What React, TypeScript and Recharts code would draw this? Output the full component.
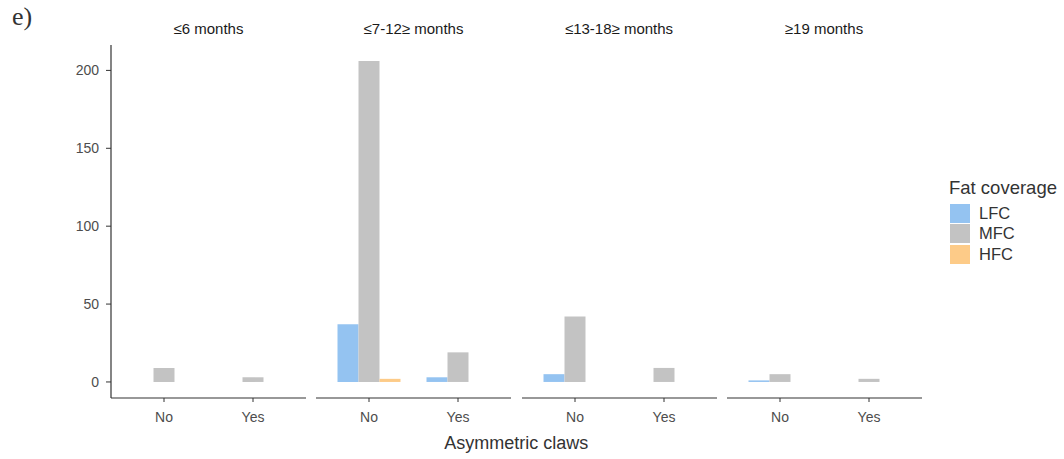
import { BarChart, Bar, XAxis, YAxis } from 'recharts'

const AGE_GROUPS = ['≤6 months', '≤7-12≥ months', '≤13-18≥ months', '≥19 months']
const CLAWS = ['No', 'Yes']

// counts per age group, ordered [No, Yes]
const LFC = [
  [0, 0],
  [37, 3],
  [5, 0],
  [1, 0],
]
const MFC = [
  [9, 3],
  [206, 19],
  [42, 9],
  [5, 2],
]
const HFC = [
  [0, 0],
  [2, 0],
  [0, 0],
  [0, 0],
]

const Y_TICKS = [0, 50, 100, 150, 200]

const SERIES = [
  { key: 'LFC', color: '#94c3f1' },
  { key: 'MFC', color: '#c3c3c3' },
  { key: 'HFC', color: '#fdcb88' },
] as const

const PANEL_LEFT = [111, 316, 521.5, 726.5]
const PANEL_W = 195
const Y_AXIS_W = 111
const PLOT_TOP = 45
const PLOT_BOTTOM = 398
const CHART_H = 459

const FONT = 'Liberation Sans, Arial, sans-serif'
const axisText = { fontSize: 14, fill: '#4d4d4d', fontFamily: FONT }

function panelData(i: number) {
  return CLAWS.map((c, j) => ({
    claw: c,
    LFC: LFC[i][j],
    MFC: MFC[i][j],
    HFC: HFC[i][j],
  }))
}

function Panel({ index }: { index: number }) {
  const first = index === 0
  const left = first ? 0 : PANEL_LEFT[index]
  const width = first ? Y_AXIS_W + PANEL_W : PANEL_W
  return (
    <div style={{ position: 'absolute', left, top: 0 }}>
      <BarChart
        width={width}
        height={CHART_H}
        data={panelData(index)}
        margin={{ top: PLOT_TOP, right: 0, bottom: 0, left: 0 }}
        barGap={0}
        barSize={21}
      >
        <XAxis
          dataKey="claw"
          height={CHART_H - PLOT_BOTTOM}
          padding={{ left: 8.5, right: 8.5 }}
          tick={axisText}
          tickSize={4}
          tickMargin={10}
          stroke="#333333"
          axisLine={{ stroke: '#333333', strokeWidth: 1.2 }}
          tickLine={{ stroke: '#333333' }}
        />
        <YAxis
          hide={!first}
          width={Y_AXIS_W}
          type="number"
          domain={[-10.3, 216.3]}
          ticks={Y_TICKS}
          allowDataOverflow
          tick={axisText}
          tickSize={5}
          tickMargin={7}
          axisLine={{ stroke: '#333333', strokeWidth: 1.2 }}
          tickLine={{ stroke: '#333333' }}
        />
        {SERIES.map(({ key, color }) => (
          <Bar key={key} dataKey={key} fill={color} isAnimationActive={false} />
        ))}
      </BarChart>
    </div>
  )
}

export default function App() {
  return (
    <div
      style={{
        position: 'absolute',
        left: 0,
        top: 0,
        width: 1064,
        height: 459,
        background: '#fff',
        overflow: 'hidden',
      }}
    >
      <div
        style={{
          position: 'absolute',
          left: 12,
          top: 2,
          fontFamily: 'Liberation Serif, serif',
          fontSize: 26,
          color: '#333',
        }}
      >
        e)
      </div>
      {AGE_GROUPS.map((g, i) => (
        <div
          key={g}
          style={{
            position: 'absolute',
            left: PANEL_LEFT[i],
            width: PANEL_W,
            top: 20,
            textAlign: 'center',
            fontFamily: FONT,
            fontSize: 15,
            color: '#1a1a1a',
          }}
        >
          {g}
        </div>
      ))}
      {AGE_GROUPS.map((g, i) => (
        <Panel key={g} index={i} />
      ))}
      <div
        style={{
          position: 'absolute',
          left: PANEL_LEFT[0],
          width: PANEL_LEFT[3] + PANEL_W - PANEL_LEFT[0],
          top: 433,
          textAlign: 'center',
          fontFamily: FONT,
          fontSize: 18,
          color: '#333',
        }}
      >
        Asymmetric claws
      </div>
      <div style={{ position: 'absolute', left: 949, top: 177, fontFamily: FONT, color: '#333' }}>
        <div style={{ fontSize: 18.5, lineHeight: '21px', marginBottom: 5 }}>Fat coverage</div>
        {SERIES.map(({ key, color }) => (
          <div key={key} style={{ display: 'flex', alignItems: 'center', height: 20.5 }}>
            <div style={{ width: 20, height: 19, background: color, marginLeft: 1 }} />
            <span style={{ fontSize: 16.5, marginLeft: 9 }}>{key}</span>
          </div>
        ))}
      </div>
    </div>
  )
}
